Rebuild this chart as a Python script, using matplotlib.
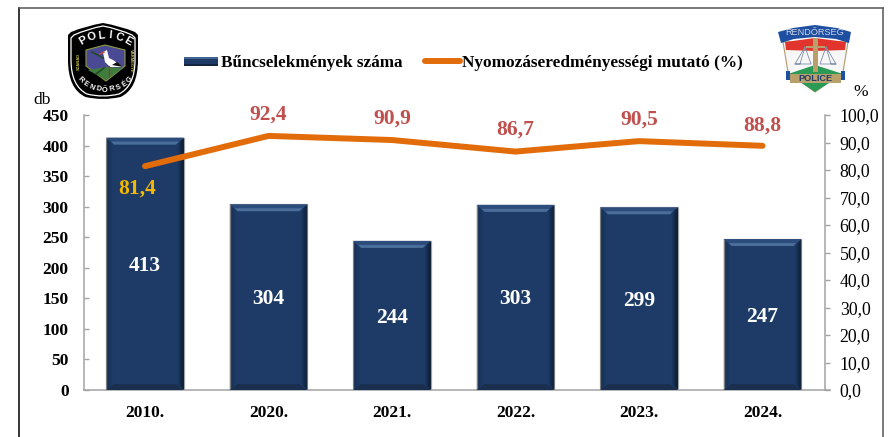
import matplotlib
matplotlib.use('Agg')
import matplotlib.pyplot as plt
import numpy as np
from matplotlib.patches import Polygon, Rectangle, PathPatch
from matplotlib.path import Path

plt.rcParams['font.family'] = ['Liberation Serif', 'DejaVu Serif']

years = ['2010.', '2020.', '2021.', '2022.', '2023.', '2024.']
crimes = [413, 304, 244, 303, 299, 247]
rates = [81.4, 92.4, 90.9, 86.7, 90.5, 88.8]
left_ticks = [0, 50, 100, 150, 200, 250, 300, 350, 400, 450]
right_ticks = [0, 10, 20, 30, 40, 50, 60, 70, 80, 90, 100]
# label offset above the line, in points (first one sits under the line)
rate_offsets = [(-6, -16), (0, 15.5), (0, 15.5), (0, 15.5), (0, 15.5), (0, 14.5)]
rate_colors = ['#f5b800', '#c0504d', '#c0504d', '#c0504d', '#c0504d', '#c0504d']

W, H = 890, 437
BAR = '#1d3b66'
GREY = '#a3a3a3'

fig = plt.figure(figsize=(W / 100, H / 100), dpi=100)
ax = fig.add_axes([84 / W, 1 - 390 / H, 741 / W, 275 / H])
ax2 = ax.twinx()
x = np.arange(len(years))

ax.bar(x, crimes, width=0.63, color=BAR, edgecolor=GREY, linewidth=0.9, zorder=2)
ax.set_xlim(-0.494, 5.506)
ax.set_ylim(0, 450)
ax.set_xticks(x, years, fontweight='bold', fontsize=12.5, color='black')
ax.set_yticks(left_ticks, [str(t) for t in left_ticks], fontweight='bold', fontsize=12.6)
ax.tick_params(axis='x', length=0, pad=10.5)
ax.tick_params(axis='y', direction='in', length=3.6, width=1, color=GREY, pad=11)

# bevel of the bars
dx = 0.63 / 78
dy = 450 / 275
for xi, c in zip(x, crimes):
    l, r = xi - 0.315, xi + 0.315
    ax.add_patch(Polygon([(l, c), (r, c), (r - 8 * dx, c - 7 * dy), (l + 8 * dx, c - 7 * dy)],
                         color='#2c4d7c', lw=0, zorder=3))
    ax.add_patch(Polygon([(l + 5 * dx, c - 4 * dy), (r - 5 * dx, c - 4 * dy), (r - 8 * dx, c - 7 * dy), (l + 8 * dx, c - 7 * dy)],
                         color='#4a6d9a', lw=0, zorder=3))
    ax.add_patch(Polygon([(l, 0), (r, 0), (r - 8 * dx, 6 * dy), (l + 8 * dx, 6 * dy)],
                         color='#1a2f4f', lw=0, zorder=3))
    # sides fade out towards the edge
    for k in range(6):
        ax.add_patch(Polygon([(r - (k + 1) * dx, (k + 1) * dy), (r - k * dx, k * dy), (r - k * dx, c - k * dy), (r - (k + 1) * dx, c - (k + 1) * dy)],
                             color='#07101f', alpha=0.75 - k * 0.13, lw=0, zorder=3))
        ax.add_patch(Polygon([(l + (k + 1) * dx, (k + 1) * dy), (l + k * dx, k * dy), (l + k * dx, c - k * dy), (l + (k + 1) * dx, c - (k + 1) * dy)],
                             color='#07101f', alpha=0.28 - k * 0.05, lw=0, zorder=3))
    ax.annotate(str(c), (xi, c / 2), xytext=(0, -1.5), textcoords='offset points', color='white',
                fontweight='bold', fontsize=15.5, ha='center', va='center', zorder=5)

ax2.set_ylim(0, 100)
ax2.set_yticks(right_ticks, [('%.1f' % t).replace('.', ',') for t in right_ticks], fontsize=12.8)
for lab in ax2.get_yticklabels():
    lab.set_ha('left')
ax2.tick_params(axis='y', direction='out', length=3.6, width=1, color=GREY, pad=7)
ax2.plot(x, rates, color='#e36c0a', lw=4.3, solid_capstyle='round', solid_joinstyle='miter', zorder=6)
for xi, v, off, col in zip(x, rates, rate_offsets, rate_colors):
    ax2.annotate(str(v).replace('.', ','), (xi, v), xytext=off, textcoords='offset points',
                 color=col, fontweight='bold', fontsize=15.5, ha='center', va='center', zorder=7)

for a in (ax, ax2):
    a.set_zorder(1 if a is ax else 2)
    a.patch.set_visible(False)
    a.spines['top'].set_visible(False)
    for s in ('left', 'right', 'bottom'):
        a.spines[s].set_color(GREY)
        a.spines[s].set_linewidth(1.1)
ax.spines['right'].set_visible(False)
ax2.spines['left'].set_visible(False)
ax2.spines['bottom'].set_visible(False)

# overlay in pixels for the frame, legend and the two badges
ov = fig.add_axes([0, 0, 1, 1], zorder=5)
ov.set_xlim(0, W)
ov.set_ylim(H, 0)
ov.axis('off')
ov.plot([18.5, 18.5], [H, 7.5], color='black', lw=1.1)
ov.plot([18.5, 882.5], [7.5, 7.5], color='#555555', lw=1.1)
ov.plot([882.5, 882.5], [7.5, H], color='#555555', lw=1.1)
ov.plot([825, 830], [390, 390], color=GREY, lw=1.1)

ov.text(42, 100, 'db', fontsize=12.5, ha='center', va='center')
ov.text(861, 92, '%', fontsize=12.5, ha='center', va='center')

# legend
ov.add_patch(Rectangle((184, 57), 34, 8.5, color=BAR, lw=0))
ov.add_patch(Rectangle((184, 57), 34, 1.6, color='#426591', lw=0))
ov.add_patch(Rectangle((184, 64), 34, 1.5, color='#14263f', lw=0))
ov.text(221, 63, 'Bűncselekmények száma', fontweight='bold', fontsize=12.3, va='center')
ov.plot([425, 460], [61, 61], color='#e36c0a', lw=4.3, solid_capstyle='round')
ov.text(462, 63, 'Nyomozáseredményességi mutató (%)', fontweight='bold', fontsize=12.4, va='center')


def shield(cx, top, half, shoulder, bottom):
    verts = [(cx - half + 3, top + 9), (cx - half * 0.5, top + 3), (cx, top), (cx + half * 0.5, top + 3), (cx + half - 3, top + 9),
             (cx + half, top + 12), (cx + half, shoulder),
             (cx + half, bottom - 12), (cx + half * 0.5, bottom - 4), (cx, bottom),
             (cx - half * 0.5, bottom - 4), (cx - half, bottom - 12), (cx - half, shoulder),
             (cx - half, top + 12), (cx - half + 3, top + 9), (cx - half + 3, top + 9)]
    codes = [Path.MOVETO, Path.CURVE3, Path.CURVE3, Path.CURVE3, Path.CURVE3,
             Path.LINETO, Path.LINETO,
             Path.CURVE3, Path.CURVE3, Path.CURVE3,
             Path.CURVE3, Path.CURVE3, Path.LINETO,
             Path.LINETO, Path.LINETO, Path.CLOSEPOLY]
    return Path(verts, codes)


def arc_text(s, cx, cy, rad, start, end, size, color, bottom=False):
    for ch, ang in zip(s, np.linspace(start, end, len(s))):
        t = np.radians(ang)
        px = cx + rad * np.sin(t)
        py = cy + rad * np.cos(t) if bottom else cy - rad * np.cos(t)
        rot = ang if bottom else -ang
        ov.text(px, py, ch, fontsize=size, color=color, fontweight='bold', family='Liberation Sans',
                ha='center', va='center', rotation=rot)


# left badge
ov.add_patch(PathPatch(shield(103, 23, 35, 60, 101), fc='black', ec='none'))
ov.add_patch(PathPatch(shield(103, 26, 32, 60, 98), fc='none', ec='white', lw=0.9))
arc_text('POLICE', 105.5, 80, 45, -30, 30, 8, 'white')
arc_text('RENDŐRSÉG', 105, 54, 36, -44, 44, 5.4, 'white', bottom=True)
ov.add_patch(Polygon([(86, 50), (105, 45), (125, 50), (125, 66), (106, 81), (86, 66)], fc='#4a4a94', ec='#8f9a3a', lw=0.8))
ov.add_patch(Polygon([(88, 70), (106, 67), (123, 68), (106, 80)], fc='#3f7d3c', lw=0))
ov.add_patch(Polygon([(103, 52), (107, 50), (109, 58), (113, 60), (123, 67), (110, 67), (105, 62)], fc='white', lw=0))
ov.add_patch(Polygon([(112, 65), (123, 67), (117, 62)], fc='#111111', lw=0))
ov.plot([100, 104], [54, 52], color='#c64b3c', lw=1)
ov.plot([109, 109], [66, 76], color='#a03040', lw=0.9)
ov.plot([92, 103], [52, 58], color='#26472a', lw=1.2)
ov.plot([96, 104], [74, 68], color='#26472a', lw=1.2)
ov.text(79, 61, 'SZABAD', fontsize=3, color='#c9c24a', rotation=90, ha='center', va='center', fontweight='bold', family='Liberation Sans')
ov.text(131, 61, 'VÁRMEGYE', fontsize=3, color='#c9c24a', rotation=-90, ha='center', va='center', fontweight='bold', family='Liberation Sans')

# right badge
ov.add_patch(Polygon([(783, 42), (848, 42), (843, 72), (815, 92), (788, 72)], fc='#f7f7f7', ec='#b59a6a', lw=0.8))
ov.add_patch(Polygon([(785, 42), (815, 38), (846, 42), (845, 50), (815, 51), (786, 50)], fc='#e0342c', lw=0))
ov.add_patch(Polygon([(788, 74), (815, 65), (843, 74), (815, 92)], fc='#2a9a55', lw=0))
ov.add_patch(Polygon([(778, 32), (793, 28), (815, 25), (837, 28), (851, 32), (849, 43), (836, 39), (815, 37), (794, 39), (781, 43)], fc='#1f4fa0', lw=0))
ov.add_patch(Rectangle((786, 71), 4, 9, color='#1f4fa0', lw=0))
ov.add_patch(Rectangle((841, 71), 4, 9, color='#1f4fa0', lw=0))
ov.add_patch(Rectangle((790, 74), 51, 9, color='#b9a06a', lw=0))
ov.add_patch(Rectangle((812.5, 38), 5.5, 34, color='#b9a06a', lw=0))
ov.add_patch(Rectangle((806, 46), 19, 2.2, color='#b9a06a', lw=0))
ov.plot([805, 800, 795, 805, 811, 795], [47, 64, 64, 47, 64, 64], color='#7f8ea8', lw=0.6)
ov.plot([826, 820, 836, 826, 831, 836], [47, 64, 64, 47, 64, 64], color='#7f8ea8', lw=0.6)
ov.text(815, 78.7, 'POLICE', fontsize=6.6, color='#1f3a70', family='Liberation Sans', fontweight='bold', ha='center', va='center')
ov.text(815, 32.5, 'RENDŐRSÉG', fontsize=6.6, color='#cfd6e8', family='Liberation Sans', ha='center', va='center')

fig.savefig('out.png', dpi=100)
